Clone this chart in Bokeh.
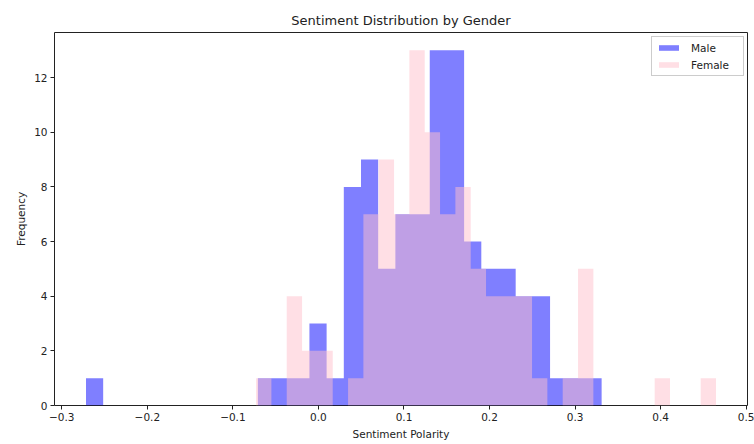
import numpy as np
from bokeh.plotting import figure
from bokeh.models import Range1d, FixedTicker, CustomJSTickFormatter, Legend, LegendItem
from bokeh.embed import file_html
from bokeh.resources import INLINE

# Histogram counts per bin (30 equal-width bins per group)
male_counts = [1, 0, 0, 0, 0, 0, 0, 0, 0, 0,
               1, 1, 1, 3, 1, 8, 9, 5, 7, 7,
               13, 13, 6, 5, 5, 4, 4, 1, 1, 1]
female_counts = [1, 0, 4, 2, 2, 0, 1, 7, 9, 7,
                 13, 10, 7, 8, 5, 4, 4, 4, 1, 0,
                 1, 5, 0, 0, 0, 0, 1, 0, 0, 1]

# Sentiment polarity range covered by each group's bins
male_range = (-0.2717, 0.3310)
female_range = (-0.0729, 0.4647)

x_ticks = [-0.3, -0.2, -0.1, 0.0, 0.1, 0.2, 0.3, 0.4, 0.5]
y_ticks = [0, 2, 4, 6, 8, 10, 12]

male_edges = np.linspace(male_range[0], male_range[1], len(male_counts) + 1)
female_edges = np.linspace(female_range[0], female_range[1], len(female_counts) + 1)

FONT = "DejaVu Sans"

p = figure(width=754, height=444, output_backend="svg", toolbar_location=None,
           x_range=Range1d(-0.3085, 0.5015), y_range=Range1d(0, 13.65),
           title="Sentiment Distribution by Gender",
           min_border_left=54, min_border_right=7, min_border_top=32, min_border_bottom=39)

# Each histogram as one stepped area, so adjacent bins join without seams
male = p.varea_step(x=male_edges, y1=0, y2=male_counts + [male_counts[-1]],
                    step_mode="after", fill_color="blue", fill_alpha=0.5)
female = p.varea_step(x=female_edges, y1=0, y2=female_counts + [female_counts[-1]],
                      step_mode="after", fill_color="pink", fill_alpha=0.5)

p.grid.visible = False
p.background_fill_color = "white"
p.border_fill_color = "white"
p.outline_line_color = "#222222"
p.outline_line_width = 1
p.outline_line_alpha = 1

p.title.text_font = FONT
p.title.text_font_size = "13px"
p.title.text_font_style = "normal"
p.title.align = "center"
p.title.text_color = "#222222"

p.xaxis.ticker = FixedTicker(ticks=x_ticks)
p.yaxis.ticker = FixedTicker(ticks=y_ticks)
p.xaxis.formatter = CustomJSTickFormatter(
    code="return (tick < -1e-9 ? '\u2212' : '') + Math.abs(tick).toFixed(1);")
p.xaxis.axis_label = "Sentiment Polarity"
p.yaxis.axis_label = "Frequency"

for ax in (p.xaxis[0], p.yaxis[0]):
    ax.axis_line_color = None
    ax.major_tick_line_color = "#222222"
    ax.major_tick_out = 4
    ax.major_tick_in = 0
    ax.minor_tick_line_color = None
    ax.major_label_text_font = FONT
    ax.major_label_text_font_size = "10.5px"
    ax.major_label_text_color = "#222222"
    ax.major_label_standoff = 3
    ax.axis_label_text_font = FONT
    ax.axis_label_text_font_size = "10.5px"
    ax.axis_label_text_font_style = "normal"
    ax.axis_label_text_color = "#222222"
    ax.axis_label_standoff = 4

# Legend anchored by its bottom-left corner, in pixels from the frame's bottom-left
legend = Legend(items=[LegendItem(label="Male", renderers=[male]),
                       LegendItem(label="Female", renderers=[female])],
                location=(597, 329))
legend.label_text_font = FONT
legend.label_text_font_size = "10.5px"
legend.label_text_color = "#222222"
legend.glyph_width = 25
legend.glyph_height = 7
legend.label_height = 13
legend.label_width = 48
legend.spacing = 4
legend.padding = 4
legend.label_standoff = 10
legend.border_line_color = "#cccccc"
legend.border_line_alpha = 1
legend.background_fill_alpha = 0.8
p.add_layout(legend)

open("out.html", "w").write(file_html(p, INLINE))
